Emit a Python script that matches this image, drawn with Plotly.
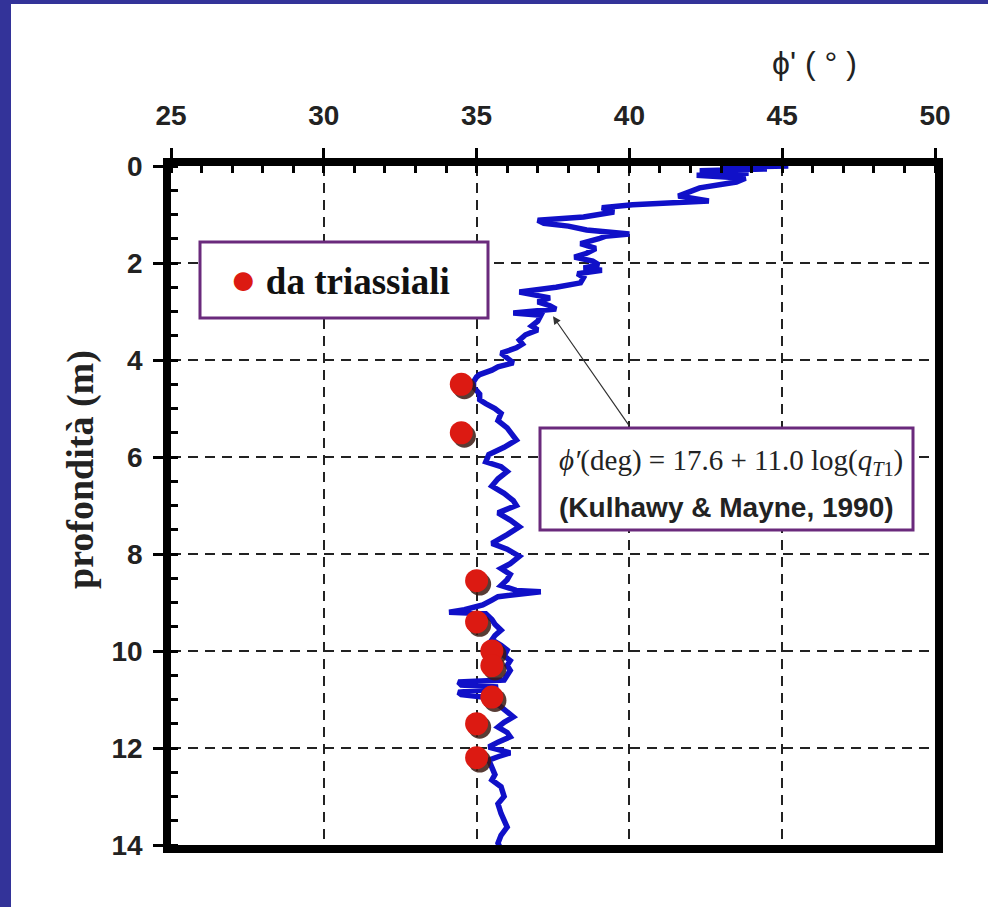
import plotly.graph_objects as go

# CPT-derived friction angle profile (phi' in degrees vs depth in m)
cpt_depth = [0.0, 0.03, 0.06, 0.1, 0.15, 0.19, 0.25, 0.33, 0.45, 0.55, 0.62, 0.72, 0.76, 0.8,
             0.86, 0.95, 1.05, 1.12, 1.18, 1.24, 1.32, 1.4, 1.45, 1.5, 1.6, 1.7, 1.8, 1.88,
             1.96, 2.04, 2.1, 2.15, 2.22, 2.3, 2.41, 2.5, 2.6, 2.66, 2.72, 2.8, 2.88, 2.95,
             3.03, 3.08, 3.2, 3.3, 3.38, 3.48, 3.59, 3.67, 3.75, 3.86, 3.95, 4.06, 4.14,
             4.21, 4.3, 4.35, 4.45, 4.56, 4.7, 4.82, 4.9, 5.0, 5.1, 5.25, 5.4, 5.55, 5.65,
             5.8, 5.95, 6.1, 6.2, 6.3, 6.45, 6.6, 6.75, 6.9, 7.0, 7.1, 7.15, 7.3, 7.44, 7.6,
             7.78, 7.9, 8.05, 8.2, 8.3, 8.42, 8.53, 8.65, 8.75, 8.78, 8.84, 8.88, 8.95, 9.05,
             9.15, 9.2, 9.23, 9.35, 9.45, 9.57, 9.68, 9.77, 9.88, 9.98, 10.1, 10.2, 10.3,
             10.4, 10.5, 10.6, 10.64, 10.7, 10.74, 10.8, 10.85, 10.9, 10.95, 11.0, 11.1,
             11.2, 11.36, 11.47, 11.57, 11.68, 11.77, 11.88, 11.98, 12.05, 12.1, 12.18,
             12.25, 12.4, 12.55, 12.66, 12.8, 13.0, 13.15, 13.35, 13.5, 13.63, 13.8, 13.96,
             14.1, 14.25]
cpt_phi = [45.2, 43.0, 44.5, 42.3, 43.9, 42.2, 43.8, 43.5, 42.3, 41.9, 41.6, 42.6, 40.8, 40.1,
           39.1, 39.5, 38.5, 37.0, 37.2, 38.0, 38.6, 40.0, 39.2, 39.0, 38.4, 38.9, 38.6, 38.2,
           38.8, 39.0, 38.5, 39.1, 38.3, 38.5, 38.4, 37.6, 36.4, 37.0, 37.4, 37.0, 37.4, 37.6,
           36.2, 37.1, 37.0, 36.8, 37.0, 36.6, 36.4, 36.5, 36.3, 35.8, 36.0, 36.2, 35.7,
           35.5, 35.1, 35.0, 34.9, 34.9, 35.1, 35.1, 35.3, 35.6, 35.8, 35.7, 36.0, 36.2, 36.3,
           35.9, 35.4, 35.3, 35.8, 36.0, 35.7, 35.5, 35.9, 36.2, 36.3, 35.9, 35.7, 36.1, 36.4,
           36.0, 35.5, 36.0, 36.4, 36.1, 35.8, 36.1, 36.0, 35.8, 36.3, 37.1, 36.0, 35.7, 35.5,
           35.2, 34.6, 34.1, 35.3, 35.5, 35.6, 35.8, 35.6, 35.5, 35.8, 36.0, 35.9, 36.1, 36.0,
           36.1, 36.0, 35.9, 34.4, 34.5, 35.7, 35.3, 34.4, 34.5, 35.2, 35.5, 35.7,
           35.9, 36.2, 35.9, 35.7, 36.0, 36.1, 35.7, 35.4, 35.8, 36.1, 35.7,
           35.4, 35.5, 35.6, 35.5, 35.8, 35.9, 35.7, 35.8, 35.9, 36.0, 35.8, 35.7,
           35.8, 35.8]

# Triaxial test results
tri_depth = [4.5, 5.5, 8.55, 9.4, 10.0, 10.3, 10.95, 11.5, 12.2]
tri_phi = [34.5, 34.5, 35.0, 35.0, 35.5, 35.5, 35.5, 35.0, 35.0]

x_ticks = [25, 30, 35, 40, 45, 50]
y_ticks = [0, 2, 4, 6, 8, 10, 12, 14]

W, H = 988, 907
ML, MR, MT, MB = 171, 53, 166, 62
PW, PH = W - ML - MR, H - MT - MB


def px_x(px):
    return (px - ML) / PW


def px_y(py):
    return (H - MB - py) / PH


BLUE = "#1010c8"
RED = "#dc1a12"
PURPLE = "#6a2a7c"
SANS = "Liberation Sans, Arial, sans-serif"
SERIF = "Liberation Serif, Times New Roman, serif"

fig = go.Figure()

fig.add_trace(go.Scatter(
    x=cpt_phi, y=cpt_depth, mode="lines",
    line=dict(color=BLUE, width=5.5), showlegend=False, hoverinfo="skip"))

# dark drop shadow under the triaxial markers
fig.add_trace(go.Scatter(
    x=[v + 0.1 for v in tri_phi], y=[d + 0.07 for d in tri_depth], mode="markers",
    marker=dict(size=23, color="#3b1a12", opacity=0.85), showlegend=False,
    hoverinfo="skip"))
fig.add_trace(go.Scatter(
    x=tri_phi, y=tri_depth, mode="markers", name="da triassiali",
    marker=dict(size=23, color=RED), showlegend=False))

axis_common = dict(
    showline=True, linewidth=7.5, linecolor="black", mirror=True,
    ticks="outside", ticklen=10, tickwidth=3, tickcolor="black",
    showgrid=True, gridcolor="#222222", gridwidth=1.5, griddash="10px,7px",
    zeroline=False,
    tickfont=dict(family=SANS, size=28, color="#222222", weight="bold"),
)

fig.update_xaxes(
    side="top", range=[25, 50], tickvals=x_ticks, ticktext=[str(v) for v in x_ticks],
    ticklabelstandoff=12,
    minor=dict(ticks="inside", dtick=1, tick0=25, ticklen=7, tickwidth=3,
               tickcolor="black", showgrid=False),
    **axis_common)
fig.update_yaxes(
    range=[14, 0], tickvals=y_ticks, ticktext=[str(v) for v in y_ticks],
    ticklabelstandoff=5,
    minor=dict(ticks="inside", dtick=0.5, tick0=0, ticklen=7, tickwidth=3,
               tickcolor="black", showgrid=False),
    **axis_common)

shapes = [
    # page border strips
    dict(type="rect", xref="paper", yref="paper", x0=px_x(0), x1=px_x(11),
         y0=px_y(H), y1=px_y(0), fillcolor="#333399", line=dict(width=0), layer="below"),
    dict(type="rect", xref="paper", yref="paper", x0=px_x(0), x1=px_x(W),
         y0=px_y(4), y1=px_y(0), fillcolor="#333399", line=dict(width=0), layer="below"),
    # legend frame
    dict(type="rect", xref="paper", yref="paper", x0=px_x(200), x1=px_x(488),
         y0=px_y(318), y1=px_y(242), fillcolor="white",
         line=dict(color=PURPLE, width=3), layer="above"),
    # correlation box
    dict(type="rect", xref="paper", yref="paper", x0=px_x(540), x1=px_x(913),
         y0=px_y(530), y1=px_y(428), fillcolor="white",
         line=dict(color=PURPLE, width=3), layer="above"),
]

annotations = [
    dict(xref="paper", yref="paper", x=px_x(814), y=px_y(63), showarrow=False,
         xanchor="center", yanchor="middle",
         text="ϕ' ( ° )", font=dict(family=SANS, size=32, color="#222222")),
    dict(xref="paper", yref="paper", x=px_x(80), y=px_y(470), showarrow=False,
         xanchor="center", yanchor="middle",
         textangle=-90, text="profondità (m)",
         font=dict(family=SERIF, size=38, color="#222222", weight="bold")),
    dict(xref="paper", yref="paper", x=px_x(228), y=px_y(279), xanchor="left",
         yanchor="middle", showarrow=False,
         text=f"<span style='color:{RED};font-size:44px'>●</span> da triassiali",
         font=dict(family=SERIF, size=37, color="#111111", weight="bold")),
    dict(xref="paper", yref="paper", x=px_x(731), y=px_y(462), showarrow=False,
         xanchor="center", yanchor="middle",
         text="<i>ϕ′</i>(deg) = 17.6 + 11.0 log(<i>q</i><sub><i>T</i>1</sub>)",
         font=dict(family=SERIF, size=29, color="#222222")),
    dict(xref="paper", yref="paper", x=px_x(726), y=px_y(507), showarrow=False,
         xanchor="center", yanchor="middle",
         text="(Kulhawy &amp; Mayne, 1990)",
         font=dict(family=SANS, size=28, color="#222222", weight="bold")),
    # arrow pointing from the correlation box to the CPT curve
    dict(x=37.5, y=3.1, xref="x", yref="y", ax=40.02, ay=5.38, axref="x", ayref="y",
         showarrow=True, arrowhead=2, arrowsize=1.3, arrowwidth=1.2, arrowcolor="#333333",
         text=""),
]

fig.update_layout(
    width=W, height=H, margin=dict(l=ML, r=MR, t=MT, b=MB, pad=0),
    paper_bgcolor="white", plot_bgcolor="white", showlegend=False,
    shapes=shapes, annotations=annotations,
)

fig.write_html("out.html")
